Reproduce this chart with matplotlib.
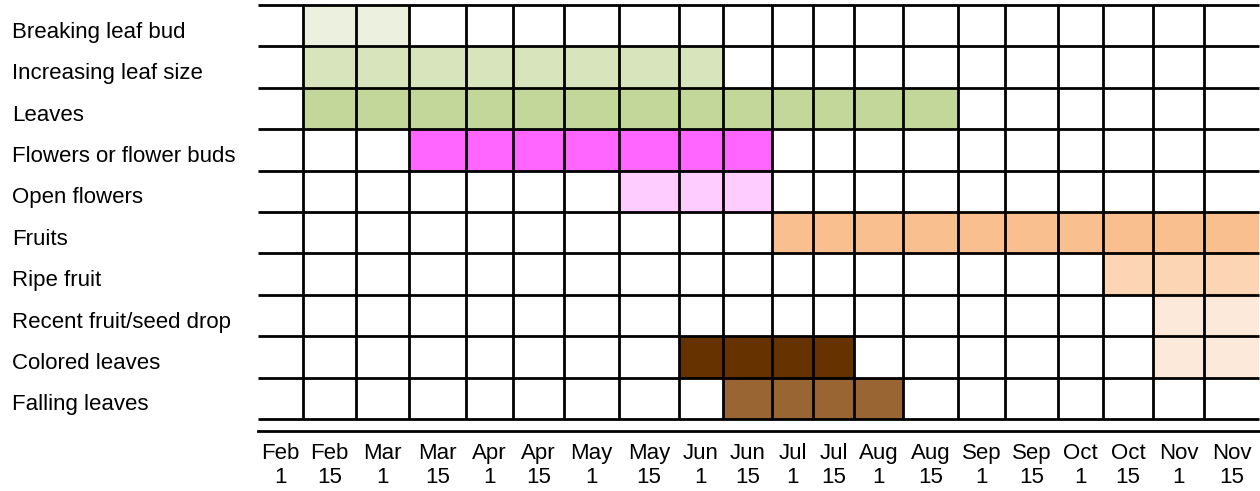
import numpy as np
import matplotlib
matplotlib.use('Agg')
import matplotlib.pyplot as plt
from matplotlib.transforms import blended_transform_factory

plt.rcParams['font.family'] = ['Liberation Sans', 'DejaVu Sans']

# half-month periods (columns)
periods = ['Feb 1', 'Feb 15', 'Mar 1', 'Mar 15', 'Apr 1', 'Apr 15', 'May 1', 'May 15',
           'Jun 1', 'Jun 15', 'Jul 1', 'Jul 15', 'Aug 1', 'Aug 15', 'Sep 1', 'Sep 15',
           'Oct 1', 'Oct 15', 'Nov 1', 'Nov 15']

phases = ['Breaking leaf bud', 'Increasing leaf size', 'Leaves', 'Flowers or flower buds',
          'Open flowers', 'Fruits', 'Ripe fruit', 'Recent fruit/seed drop',
          'Colored leaves', 'Falling leaves']

# phase, first period, last period, colour
spans = [
    ('Breaking leaf bud', 'Feb 15', 'Mar 1', '#ebf1de'),
    ('Increasing leaf size', 'Feb 15', 'Jun 1', '#d8e4bc'),
    ('Leaves', 'Feb 15', 'Aug 15', '#c4d79b'),
    ('Flowers or flower buds', 'Mar 15', 'Jun 15', '#ff66ff'),
    ('Open flowers', 'May 15', 'Jun 15', '#ffccff'),
    ('Fruits', 'Jul 1', 'Nov 15', '#fabf8f'),
    ('Ripe fruit', 'Oct 15', 'Nov 15', '#fcd5b4'),
    ('Recent fruit/seed drop', 'Nov 1', 'Nov 15', '#fde9d9'),
    ('Colored leaves', 'Jun 1', 'Jul 15', '#663300'),
    ('Colored leaves', 'Nov 1', 'Nov 15', '#fde9d9'),
    ('Falling leaves', 'Jun 15', 'Aug 1', '#996633'),
]

# column widths (table layout, px)
col_w = [45, 53, 53, 57, 47, 51, 55, 60, 44, 49, 41, 41, 49, 55, 47, 53, 45, 50, 51, 55]
edges = np.concatenate([[0], np.cumsum(col_w)])
total = edges[-1]

W, H = 1260, 491
fig = plt.figure(figsize=(W / 100, H / 100), dpi=100)
ax = fig.add_axes([258 / W, 1 - 419 / H, total / W, 414 / H])

# filled cells
for name, first, last, color in spans:
    r = phases.index(name)
    i0 = periods.index(first)
    i1 = periods.index(last)
    ax.broken_barh([(edges[i0], edges[i1 + 1] - edges[i0])], (r, 1), facecolors=color)

# grid
lw = 2.0
ax.hlines(np.arange(len(phases) + 1), 0, total, colors='black', linewidth=lw, clip_on=False)
ax.vlines(edges[1:-1], 0, len(phases), colors='black', linewidth=lw)

ax.set_xlim(0, total)
ax.set_ylim(len(phases), 0)
for s in ax.spines.values():
    s.set_visible(False)

# row labels at the left
trans = blended_transform_factory(fig.transFigure, ax.transData)
for r, name in enumerate(phases):
    ax.text(12 / W, r + 0.79, name, transform=trans, fontsize=16, va='baseline', ha='left')

# separator under the table
ax.plot([0, total], [-12 / 414, -12 / 414], color='black', linewidth=lw,
        transform=ax.get_xaxis_transform(), clip_on=False)

# period labels
centers = (edges[:-1] + edges[1:]) / 2
ax.set_xticks(centers, [p.replace(' ', '\n') for p in periods], fontsize=16, linespacing=1.2)
ax.tick_params(axis='x', length=0, pad=17)
ax.set_yticks([])

fig.savefig('out.png', dpi=100)
